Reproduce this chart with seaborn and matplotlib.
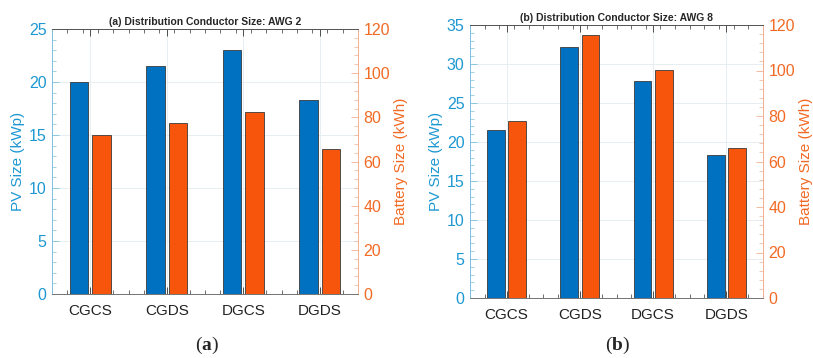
import numpy as np
import pandas as pd
import matplotlib
matplotlib.use("Agg")
import matplotlib.pyplot as plt
from matplotlib.ticker import MultipleLocator, FixedLocator
import seaborn as sns

sns.set_theme(style="white")
plt.rcParams['font.family'] = ['Liberation Sans', 'DejaVu Sans']
plt.rcParams['mathtext.fontset'] = 'custom'
plt.rcParams['mathtext.rm'] = 'Liberation Serif'
plt.rcParams['mathtext.bf'] = 'Liberation Serif:bold'

categories = ["CGCS", "CGDS", "DGCS", "DGDS"]
pv_awg2 = [20.0, 21.5, 23.0, 18.3]
bat_awg2 = [72.0, 77.6, 82.6, 65.7]
pv_awg8 = [21.6, 32.2, 27.8, 18.3]
bat_awg8 = [77.6, 115.8, 100.1, 66.0]

titles = ["(a) Distribution Conductor Size: AWG 2", "(b) Distribution Conductor Size: AWG 8"]
panel_labels = ["a", "b"]

BLUE_BAR = "#0070C0"
ORANGE_BAR = "#F7540C"
BLUE_TXT = "#1E98D2"
ORANGE_TXT = "#F26A24"
hue_order = ["PV", "Battery"]
palette = {"PV": BLUE_BAR, "Battery": ORANGE_BAR}

fig = plt.figure(figsize=(8.13, 3.58), dpi=100)
rects = [
    [52/813, 1 - 294/358, 306/813, 265/358],
    [470/813, 1 - 298/358, 293/813, 273/358],
]
pv_sets = [pv_awg2, pv_awg8]
bat_sets = [bat_awg2, bat_awg8]
left_max = [25, 35]
label_x = [207, 618]

for i in range(2):
    ax1 = fig.add_axes(rects[i])
    df_pv = pd.DataFrame({"cat": categories, "val": pv_sets[i], "series": "PV"})
    df_bat = pd.DataFrame({"cat": categories, "val": bat_sets[i], "series": "Battery"})
    sns.barplot(data=df_pv, x="cat", y="val", hue="series", hue_order=hue_order,
                palette=palette, order=categories, width=0.58, gap=0.17, dodge=True,
                saturation=1, edgecolor="#3a3a3a", linewidth=0.6, legend=False,
                ax=ax1, zorder=3)
    ax2 = ax1.twinx()
    sns.barplot(data=df_bat, x="cat", y="val", hue="series", hue_order=hue_order,
                palette=palette, order=categories, width=0.58, gap=0.17, dodge=True,
                saturation=1, edgecolor="#3a3a3a", linewidth=0.6, legend=False,
                ax=ax2, zorder=3)

    ax1.set_xlim(-0.5, 3.5)
    ax1.set_ylim(0, left_max[i])
    ax2.set_ylim(0, 120)
    ax1.yaxis.set_major_locator(MultipleLocator(5))
    ax1.yaxis.set_minor_locator(MultipleLocator(1))
    ax2.yaxis.set_major_locator(MultipleLocator(20))
    ax2.yaxis.set_minor_locator(MultipleLocator(4))
    ax1.xaxis.set_minor_locator(FixedLocator(np.arange(-0.5, 3.51, 0.2)))

    ax1.set_xlabel("")
    ax2.set_xlabel("")
    ax1.set_ylabel("PV Size (kWp)", color=BLUE_TXT, fontsize=11, labelpad=3)
    ax2.set_ylabel("Battery Size (kWh)", color=ORANGE_TXT, fontsize=11, labelpad=3)
    ax1.set_title(titles[i], fontsize=7.5, fontweight="bold", pad=3)

    ax1.grid(True, which="major", color="#e6eef2", linewidth=0.7, zorder=0)
    ax1.set_axisbelow(True)

    ax1.tick_params(axis="x", which="both", direction="in", top=True, bottom=True,
                    labelsize=11, colors="#333333", labelcolor="#222222", pad=7)
    ax1.tick_params(axis="x", which="major", length=5, width=0.6)
    ax1.tick_params(axis="x", which="minor", length=3, width=0.5)
    ax1.tick_params(axis="y", which="both", direction="in", left=True, right=False,
                    colors="#7fc0df", labelcolor=BLUE_TXT, labelsize=11.5, pad=4)
    ax1.tick_params(axis="y", which="major", length=5, width=0.6)
    ax1.tick_params(axis="y", which="minor", length=3, width=0.5)
    ax2.tick_params(axis="y", which="both", direction="in", right=True, left=False,
                    colors="#f4b090", labelcolor=ORANGE_TXT, labelsize=11.5, pad=4)
    ax2.tick_params(axis="y", which="major", length=5, width=0.6)
    ax2.tick_params(axis="y", which="minor", length=3, width=0.5)

    for ax in (ax1, ax2):
        for s in ax.spines.values():
            s.set_visible(True)
            s.set_linewidth(0.7)
        ax.spines["top"].set_color("#555555")
        ax.spines["bottom"].set_color("#777777")
        ax.spines["left"].set_color("#7fc0df")
        ax.spines["right"].set_color("#f4b090")

    fig.text(label_x[i] / 813, 1 - 345 / 358, r"$\mathrm{(}\mathbf{" + panel_labels[i] + r"}\mathrm{)}$",
             ha="center", va="center", fontsize=14)

fig.savefig("out.png", dpi=100)
